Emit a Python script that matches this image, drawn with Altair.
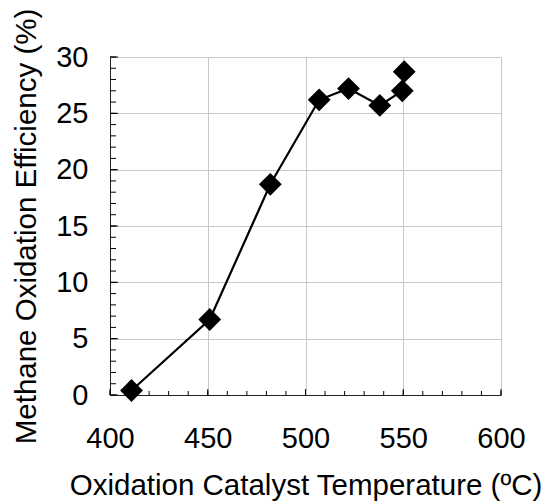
import altair as alt
import pandas as pd

# Data
temperature = [411, 451, 482, 507, 522, 538, 549.5, 550.5]
efficiency = [0.4, 6.7, 18.7, 26.2, 27.2, 25.7, 27.0, 28.7]

x_major = [400, 450, 500, 550, 600]
y_major = [0, 5, 10, 15, 20, 25, 30]
x_minor = list(range(400, 601, 10))
y_minor = list(range(0, 31, 1))

FONT = "Liberation Sans"

df = pd.DataFrame({"temp": temperature, "eff": efficiency, "order": list(range(len(temperature)))})
xmin_df = pd.DataFrame({"temp": x_minor})
ymin_df = pd.DataFrame({"eff": y_minor})
xmaj_df = pd.DataFrame({"temp": x_major})
ymaj_df = pd.DataFrame({"eff": y_major})

xscale = alt.Scale(domain=[400, 600], nice=False, zero=False)
yscale = alt.Scale(domain=[0, 30], nice=False)

xaxis = alt.Axis(
    values=x_major, grid=True, gridColor="#c8c8c8", gridWidth=1,
    domain=True, domainColor="#222222", domainWidth=1,
    ticks=False, tickSize=0, labelFlush=False,
    labelFont=FONT, labelFontSize=29, labelColor="black",
    labelPadding=52, labelBaseline="alphabetic",
    title="Oxidation Catalyst Temperature (ºC)",
    titleFont=FONT, titleFontSize=29.5, titleFontWeight="normal", titleColor="black",
    titleY=99, titleBaseline="alphabetic",
)
yaxis = alt.Axis(
    values=y_major, grid=True, gridColor="#c8c8c8", gridWidth=1,
    domain=True, domainColor="#222222", domainWidth=1,
    ticks=False, tickSize=0, labelFlush=False,
    labelFont=FONT, labelFontSize=29, labelColor="black",
    labelPadding=22, labelBaseline="middle",
    title="Methane Oxidation Efficiency (%)",
    titleFont=FONT, titleFontSize=29.5, titleFontWeight="normal", titleColor="black",
    titleX=-75, titleBaseline="alphabetic", titleAngle=270,
)

X = alt.X("temp:Q", scale=xscale, axis=xaxis)
Y = alt.Y("eff:Q", scale=yscale, axis=yaxis)

line = alt.Chart(df).mark_line(color="black", strokeWidth=2.2).encode(
    x=X, y=Y, order="order:Q",
)
points = alt.Chart(df).mark_point(shape="diamond", filled=True, color="black", size=520, opacity=1).encode(
    x=X, y=Y,
)

ytick_minor = alt.Chart(ymin_df).mark_rule(color="black", strokeWidth=1).encode(
    y=Y, x=alt.value(0), x2=alt.value(6)
)
ytick_major = alt.Chart(ymaj_df).mark_rule(color="black", strokeWidth=1).encode(
    y=Y, x=alt.value(0), x2=alt.value(8)
)
xtick_minor = alt.Chart(xmin_df).mark_rule(color="black", strokeWidth=1).encode(
    x=X, y=alt.value(338), y2=alt.value(334)
)
xtick_major = alt.Chart(xmaj_df).mark_rule(color="black", strokeWidth=1).encode(
    x=X, y=alt.value(338), y2=alt.value(332)
)

chart = alt.layer(line, ytick_minor, ytick_major, xtick_minor, xtick_major, points).properties(
    width=391, height=338,
    autosize=alt.AutoSizeParams(type="none"),
    padding={"left": 110, "top": 57, "right": 44, "bottom": 106},
    background="white",
).configure_view(stroke=None)

chart.save("out.html", embed_options={"renderer": "svg", "actions": False})
